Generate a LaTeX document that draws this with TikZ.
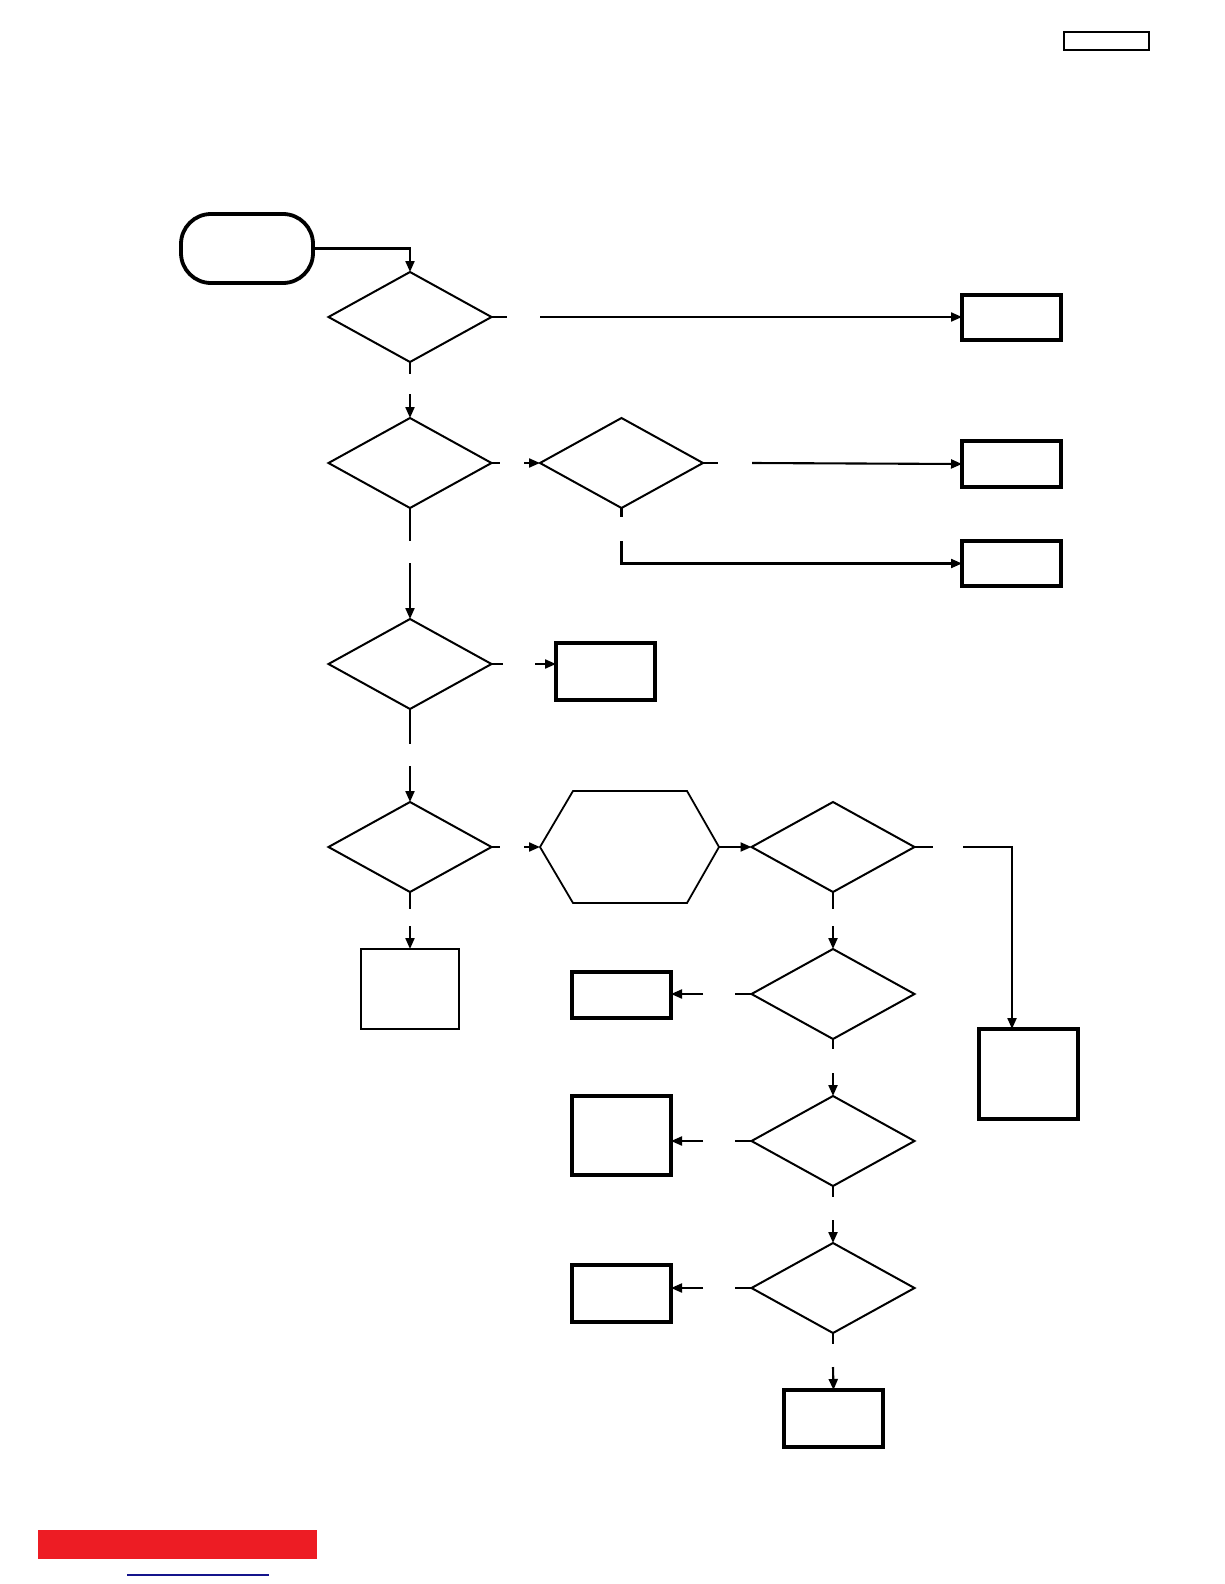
\documentclass[tikz,border=0pt]{standalone}
\usetikzlibrary{shapes.geometric,arrows.meta,calc}
\definecolor{barred}{RGB}{237,28,36}
\definecolor{linkblue}{RGB}{20,20,140}
\begin{document}
\begin{tikzpicture}[x=1pt,y=-1pt,
  dec/.style={diamond,draw,line width=2pt,minimum width=163pt,minimum height=90pt,inner sep=0pt,outer sep=0pt},
  box/.style={rectangle,draw,line width=3.2pt,inner sep=0pt,outer sep=0pt,minimum width=99pt},
  thinbox/.style={rectangle,draw,line width=2.2pt,inner sep=0pt,outer sep=0pt,minimum width=98pt},
  term/.style={rectangle,draw,line width=3.8pt,rounded corners=30pt,minimum width=132pt,minimum height=69pt,inner sep=0pt,outer sep=0pt},
  conn/.style={line width=2.1pt},
  arr/.style={line width=2.1pt,-{Triangle[length=11pt,width=9pt]}}]
\useasboundingbox (0,0) rectangle (1224,1584);
% tag box top right
\node[draw,line width=1.2pt,minimum width=85pt,minimum height=18pt,inner sep=0pt,outer sep=0pt] (tag) at (1106.5,41) {};
% start
\node[term] (S) at (247,248.5) {};
% diamonds
\node[dec] (D1) at (410,317) {};
\node[dec] (D2) at (410,463) {};
\node[dec] (D5) at (621.5,463) {};
\node[dec] (D3) at (410,664) {};
\node[dec] (D4) at (410,847) {};
\node[dec] (D6) at (833,847) {};
\node[dec] (D7) at (833,994) {};
\node[dec] (D8) at (833,1141) {};
\node[dec] (D9) at (833,1288) {};
% boxes
\node[box,minimum height=45pt] (R1) at (1011.5,317.5) {};
\node[box,minimum height=46pt] (R2) at (1011.5,464) {};
\node[box,minimum height=45pt] (R3) at (1011.5,563.5) {};
\node[box,minimum height=57pt] (M) at (605.5,671.5) {};
\node[thinbox,minimum height=80pt] (L) at (410,989) {};
\node[box,minimum height=90pt] (T) at (1028.5,1074) {};
\node[box,minimum height=46pt] (B1) at (621.5,995) {};
\node[box,minimum height=79pt] (B2) at (621.5,1135.5) {};
\node[box,minimum height=57pt] (B3) at (621.5,1293.5) {};
\node[box,minimum height=57pt] (Z) at (833.5,1418.5) {};
% hexagon
\node[rectangle,minimum width=179pt,minimum height=112pt,inner sep=0pt,outer sep=0pt] (H) at (629.5,847) {};
\draw[line width=1.8pt] (H.west) -- ($(H.north west)+(33,0)$) -- ($(H.north east)+(-32,0)$) -- (H.east)
  -- ($(H.south east)+(-32,0)$) -- ($(H.south west)+(33,0)$) -- cycle;
% gap resume points
\coordinate (g1) at (540,317);
\coordinate (g2) at (410,394);
\coordinate (g3) at (524,463);
\coordinate (g4) at (752,463);
\coordinate (g5) at (621.5,541);
\coordinate (g6) at (410,563);
\coordinate (g7) at (535,664);
\coordinate (g8) at (410,766);
\coordinate (g9) at (524,847);
\coordinate (g10) at (963,847);
\coordinate (g11) at (410,926);
\coordinate (g12) at (833,926);
\coordinate (g13) at (703,994);
\coordinate (g14) at (833,1073);
\coordinate (g15) at (703,1141);
\coordinate (g16) at (833,1220);
\coordinate (g17) at (703,1288);
\coordinate (g18) at (833,1367);
\coordinate (tin) at ($(T.north)+(-16.5,0)$);
% connectors
\draw[arr] (S.east) -| (D1.north);
\draw[conn] (D1.east) -- ++(15,0);
\draw[arr] (g1) -- (g1 -| R1.west);
\draw[conn] (D1.south) -- ++(0,12);
\draw[arr] (g2) -- (D2.north);
\draw[conn] (D2.east) -- ++(8,0);
\draw[arr] (g3) -- (D5.west);
\draw[conn] (D5.east) -- ++(15,0);
\draw[arr] (g4) -- (R2.west);
\draw[conn] (D5.south) -- ++(0,9);
\draw[arr] (g5) |- (R3.west);
\draw[conn] (D2.south) -- ++(0,33);
\draw[arr] (g6) -- (D3.north);
\draw[conn] (D3.east) -- ++(11,0);
\draw[arr] (g7) -- (g7 -| M.west);
\draw[conn] (D3.south) -- ++(0,35);
\draw[arr] (g8) -- (D4.north);
\draw[conn] (D4.east) -- ++(8,0);
\draw[arr] (g9) -- (H.west);
\draw[arr] (H.east) -- (D6.west);
\draw[conn] (D6.east) -- ++(18,0);
\draw[arr] (g10) -| (tin);
\draw[conn] (D4.south) -- ++(0,17);
\draw[arr] (g11) -- (L.north);
\draw[conn] (D6.south) -- ++(0,17);
\draw[arr] (g12) -- (D7.north);
\draw[conn] (D7.west) -- ++(-17,0);
\draw[arr] (g13) -- (g13 -| B1.east);
\draw[conn] (D7.south) -- ++(0,10);
\draw[arr] (g14) -- (D8.north);
\draw[conn] (D8.west) -- ++(-17,0);
\draw[arr] (g15) -- (g15 -| B2.east);
\draw[conn] (D8.south) -- ++(0,11);
\draw[arr] (g16) -- (D9.north);
\draw[conn] (D9.west) -- ++(-17,0);
\draw[arr] (g17) -- (g17 -| B3.east);
\draw[conn] (D9.south) -- ++(0,11);
\draw[arr] (g18) -- (Z.north);
% footer
\fill[barred] (38,1530) rectangle (317,1559);
\draw[linkblue,line width=1.4pt] (127,1575) -- (269,1575);
\end{tikzpicture}
\end{document}
